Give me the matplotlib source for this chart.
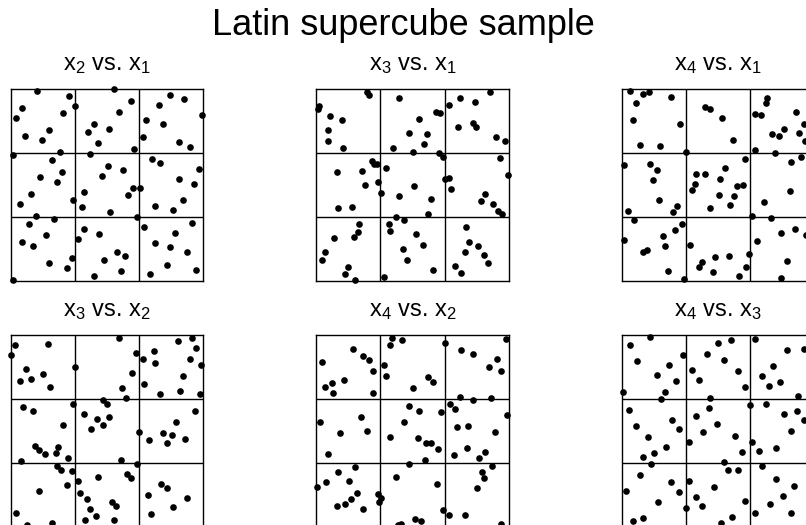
import numpy as np
import matplotlib
matplotlib.use("Agg")
import matplotlib.pyplot as plt

plt.rcParams["font.family"] = ["Liberation Sans", "DejaVu Sans"]
plt.rcParams["mathtext.default"] = "regular"

TITLE = "Latin supercube sample"

# Panel labels: (vertical variable, horizontal variable)
pairs = [(2, 1), (3, 1), (4, 1), (3, 2), (4, 2), (4, 3)]

# x2 vs. x1
p21_x = [0.138, 0.303, 0.337, 0.061, 0.031, 0.273, 0.199, 0.074, 0.164,
         0.536, 0.626, 0.562, 0.433, 0.401, 0.510, 0.455, 0.644,
         0.827, 0.901, 0.773, 0.997, 0.702, 0.794, 0.689, 0.877, 0.931,
         0.014, 0.256, 0.216, 0.270, 0.151, 0.240, 0.109, 0.047, 0.324, 0.135,
         0.415, 0.505, 0.583, 0.474, 0.637, 0.384, 0.609, 0.369, 0.519,
         0.737, 0.779, 0.981, 0.875, 0.952, 0.675, 0.896, 0.753, 0.843,
         0.227, 0.095, 0.187, 0.062, 0.118, 0.318, 0.201, 0.291, 0.012,
         0.382, 0.458, 0.353, 0.554, 0.597, 0.486, 0.574, 0.434,
         0.659, 0.692, 0.945, 0.855, 0.749, 0.829, 0.919, 0.813, 0.965, 0.723]
p21_y = [0.986, 0.960, 0.911, 0.899, 0.847, 0.870, 0.783, 0.755, 0.730,
         0.995, 0.934, 0.878, 0.816, 0.774, 0.791, 0.717, 0.687,
         0.965, 0.943, 0.915, 0.861, 0.837, 0.816, 0.748, 0.722, 0.696,
         0.654, 0.671, 0.626, 0.567, 0.537, 0.515, 0.449, 0.397, 0.421, 0.337,
         0.659, 0.598, 0.576, 0.546, 0.482, 0.459, 0.443, 0.383, 0.355,
         0.633, 0.610, 0.583, 0.529, 0.503, 0.480, 0.417, 0.388, 0.365,
         0.322, 0.294, 0.235, 0.203, 0.181, 0.115, 0.089, 0.063, 0.003,
         0.266, 0.242, 0.214, 0.150, 0.127, 0.108, 0.049, 0.021,
         0.329, 0.277, 0.299, 0.249, 0.195, 0.172, 0.150, 0.083, 0.056, 0.035]

# x3 vs. x1
p31_x = [0.265, 0.272, 0.012, 0.009, 0.073, 0.133, 0.059, 0.061, 0.139,
         0.432, 0.620, 0.641, 0.534, 0.484, 0.575, 0.560, 0.400, 0.504, 0.638, 0.659,
         0.901, 0.749, 0.825, 0.688, 0.813, 0.828, 0.737, 0.931, 0.979,
         0.288, 0.302, 0.315, 0.106, 0.239, 0.255, 0.322, 0.334, 0.113, 0.184,
         0.364, 0.506, 0.430, 0.594, 0.582, 0.412,
         0.953, 0.671, 0.690, 0.995, 0.702, 0.877, 0.854, 0.919, 0.945, 0.965,
         0.224, 0.215, 0.196, 0.094, 0.043, 0.031, 0.165, 0.147, 0.199,
         0.456, 0.380, 0.383, 0.520, 0.553, 0.452, 0.473, 0.608, 0.352,
         0.776, 0.792, 0.842, 0.771, 0.873, 0.893, 0.723, 0.752]
p31_y = [0.984, 0.967, 0.910, 0.893, 0.856, 0.834, 0.783, 0.726, 0.688,
         0.950, 0.879, 0.875, 0.841, 0.768, 0.763, 0.711, 0.692, 0.671, 0.662, 0.643,
         0.984, 0.951, 0.929, 0.915, 0.820, 0.801, 0.802, 0.745, 0.724,
         0.622, 0.605, 0.607, 0.563, 0.570, 0.496, 0.511, 0.456, 0.380, 0.381,
         0.586, 0.490, 0.438, 0.423, 0.347, 0.331,
         0.638, 0.530, 0.532, 0.548, 0.477, 0.452, 0.416, 0.400, 0.364, 0.347,
         0.295, 0.255, 0.225, 0.222, 0.146, 0.107, 0.071, 0.036, 0.002,
         0.317, 0.296, 0.260, 0.241, 0.185, 0.166, 0.109, 0.057, 0.017,
         0.277, 0.201, 0.182, 0.149, 0.132, 0.090, 0.078, 0.038]

# x4 vs. x1
p41_x = [0.043, 0.108, 0.139, 0.073, 0.255, 0.057, 0.300, 0.094, 0.198,
         0.335, 0.431, 0.457, 0.521, 0.576,
         0.752, 0.750, 0.691, 0.724, 0.905, 0.946, 0.844, 0.780, 0.814, 0.918,
         0.951, 0.689, 0.795,
         0.012, 0.148, 0.184, 0.163, 0.194, 0.031, 0.288, 0.267,
         0.639, 0.535, 0.384, 0.432, 0.507, 0.380, 0.366, 0.595, 0.627, 0.503,
         0.583, 0.561, 0.455,
         0.932, 0.878, 0.875, 0.738, 0.675, 0.773,
         0.061, 0.314, 0.273, 0.214, 0.224, 0.009, 0.111, 0.132, 0.240, 0.323,
         0.352, 0.660, 0.484, 0.554, 0.415, 0.401, 0.644, 0.474, 0.609,
         0.898, 0.828, 0.958, 0.703, 0.856, 0.825]
p41_y = [0.988, 0.972, 0.981, 0.924, 0.957, 0.838, 0.814, 0.704, 0.702,
         0.671, 0.902, 0.893, 0.845, 0.733,
         0.950, 0.924, 0.869, 0.862, 0.876, 0.816, 0.790, 0.761, 0.752, 0.766,
         0.726, 0.678, 0.666,
         0.602, 0.609, 0.578, 0.525, 0.418, 0.361, 0.387, 0.356,
         0.635, 0.585, 0.556, 0.554, 0.530, 0.504, 0.473, 0.492, 0.499, 0.444,
         0.442, 0.394, 0.380,
         0.642, 0.616, 0.466, 0.411, 0.334, 0.325,
         0.317, 0.294, 0.263, 0.232, 0.182, 0.213, 0.151, 0.158, 0.048, 0.009,
         0.186, 0.136, 0.120, 0.127, 0.095, 0.072, 0.072, 0.043, 0.022,
         0.270, 0.246, 0.239, 0.207, 0.103, 0.015]

# x3 vs. x2
p32_x = [0.021, 0.003, 0.193, 0.082, 0.169, 0.047, 0.108, 0.203, 0.336,
         0.565, 0.652, 0.631, 0.581, 0.598,
         0.870, 0.941, 0.965, 0.748, 0.687, 0.753, 0.932, 0.991, 0.896, 0.696,
         0.776, 0.878, 0.984,
         0.325, 0.063, 0.115, 0.275, 0.125, 0.148, 0.181, 0.235, 0.247, 0.297, 0.054,
         0.482, 0.503, 0.383, 0.449, 0.513, 0.480, 0.419, 0.576, 0.657,
         0.960, 0.861, 0.670, 0.790, 0.837, 0.814, 0.720, 0.908,
         0.240, 0.264, 0.317, 0.292, 0.148, 0.030, 0.085, 0.214,
         0.353, 0.457, 0.607, 0.628, 0.362, 0.395, 0.527, 0.548, 0.414, 0.443,
         0.386, 0.537,
         0.781, 0.814, 0.715, 0.915, 0.845, 0.730]
p32_y = [0.948, 0.894, 0.951, 0.821, 0.799, 0.762, 0.769, 0.727, 0.835,
         0.984, 0.908, 0.800, 0.724, 0.672,
         0.970, 0.986, 0.931, 0.917, 0.873, 0.856, 0.877, 0.842, 0.785, 0.747,
         0.691, 0.710, 0.691,
         0.641, 0.623, 0.604, 0.531, 0.424, 0.401, 0.380, 0.384, 0.415, 0.361, 0.344,
         0.663, 0.639, 0.587, 0.563, 0.571, 0.531, 0.512, 0.347, 0.330,
         0.604, 0.547, 0.495, 0.490, 0.479, 0.438, 0.453, 0.457,
         0.316, 0.295, 0.293, 0.219, 0.186, 0.075, 0.010, 0.019,
         0.240, 0.259, 0.278, 0.253, 0.179, 0.144, 0.130, 0.109, 0.092, 0.056,
         0.038, 0.035,
         0.226, 0.201, 0.165, 0.149, 0.106, 0.069]

# x4 vs. x2
p42_x = [0.191, 0.242, 0.275, 0.297, 0.031, 0.146, 0.080, 0.045, 0.087, 0.292,
         0.395, 0.384, 0.447, 0.353, 0.362, 0.579, 0.607, 0.501,
         0.670, 0.986, 0.753, 0.816, 0.941, 0.897, 0.958, 0.746, 0.814, 0.910,
         0.019, 0.233, 0.264, 0.125, 0.061,
         0.482, 0.536, 0.649, 0.457, 0.381, 0.527, 0.572, 0.597, 0.630, 0.565,
         0.480,
         0.694, 0.720, 0.991, 0.790, 0.730, 0.930, 0.781, 0.713, 0.877, 0.845,
         0.913,
         0.202, 0.115, 0.052, 0.170, 0.002, 0.210, 0.318, 0.334, 0.325, 0.179,
         0.148, 0.108, 0.245,
         0.414, 0.626, 0.657, 0.511, 0.544, 0.440, 0.423,
         0.859, 0.870, 0.837, 0.687, 0.774, 0.962]
p42_y = [0.925, 0.891, 0.868, 0.813, 0.861, 0.764, 0.748, 0.731, 0.700, 0.700,
         0.986, 0.948, 0.972, 0.844, 0.788, 0.781, 0.755, 0.724,
         0.957, 0.981, 0.924, 0.899, 0.875, 0.835, 0.813, 0.677, 0.661, 0.670,
         0.549, 0.575, 0.502, 0.488, 0.382,
         0.632, 0.604, 0.597, 0.549, 0.469, 0.462, 0.436, 0.438, 0.405, 0.351,
         0.326,
         0.639, 0.613, 0.582, 0.528, 0.519, 0.495, 0.413, 0.375, 0.389, 0.358,
         0.319,
         0.311, 0.288, 0.233, 0.240, 0.207, 0.177, 0.174, 0.151, 0.128, 0.144,
         0.118, 0.111, 0.095,
         0.262, 0.226, 0.087, 0.040, 0.031, 0.016, 0.009,
         0.288, 0.255, 0.201, 0.064, 0.063, 0.014]

# x4 vs. x3
p43_x = [0.147, 0.040, 0.079, 0.316, 0.242, 0.183, 0.278, 0.003, 0.221, 0.204,
         0.565, 0.497, 0.439, 0.532, 0.364, 0.603, 0.402, 0.641, 0.456,
         0.691, 0.857, 0.945, 0.784, 0.725, 0.820, 0.762, 0.915,
         0.038, 0.261, 0.073, 0.297, 0.133, 0.226, 0.168, 0.109, 0.152,
         0.454, 0.382, 0.491, 0.423, 0.585, 0.349, 0.622, 0.528, 0.663,
         0.746, 0.841, 0.908, 0.945, 0.876, 0.674, 0.712, 0.801,
         0.093, 0.256, 0.297, 0.019, 0.188, 0.332, 0.111, 0.059,
         0.549, 0.604, 0.347, 0.478, 0.382, 0.418, 0.641, 0.570, 0.513,
         0.727, 0.798, 0.895, 0.834, 0.769, 0.691, 0.876]
p43_y = [0.988, 0.950, 0.864, 0.895, 0.845, 0.792, 0.759, 0.703, 0.704, 0.665,
         0.974, 0.959, 0.902, 0.871, 0.816, 0.814, 0.768, 0.729, 0.674,
         0.981, 0.924, 0.926, 0.838, 0.785, 0.753, 0.734, 0.680,
         0.610, 0.557, 0.526, 0.509, 0.467, 0.419, 0.383, 0.364, 0.326,
         0.619, 0.579, 0.534, 0.493, 0.474, 0.443, 0.390, 0.337, 0.636,
         0.643, 0.588, 0.603, 0.555, 0.500, 0.445, 0.397, 0.412,
         0.270, 0.235, 0.184, 0.187, 0.129, 0.098, 0.045, 0.029,
         0.297, 0.297, 0.242, 0.210, 0.155, 0.107, 0.137, 0.052, 0.022,
         0.320, 0.249, 0.216, 0.160, 0.122, 0.074, 0.074]

panels = [(p21_x, p21_y), (p31_x, p31_y), (p41_x, p41_y),
          (p32_x, p32_y), (p42_x, p42_y), (p43_x, p43_y)]

W, H = 806, 525
fig = plt.figure(figsize=(W / 100, H / 100), dpi=100)

# Panel frames in pixel units (left, top), all the same size
lefts = [10.5, 316.3, 622.0]
tops = [88.5, 335.0]
size_w, size_h = 192.5, 192.0

for k, ((j, i), (xs, ys)) in enumerate(zip(pairs, panels)):
    r, c = divmod(k, 3)
    l, t = lefts[c], tops[r]
    ax = fig.add_axes([l / W, 1 - (t + size_h) / H, size_w / W, size_h / H])
    ax.set_xlim(0, 1)
    ax.set_ylim(0, 1)
    ax.set_xticks([])
    ax.set_yticks([])
    for s in ax.spines.values():
        s.set_linewidth(1.0)
        s.set_color("black")
    for g in (1 / 3, 2 / 3):
        ax.axvline(g, color="black", lw=1.0, zorder=1)
        ax.axhline(g, color="black", lw=1.0, zorder=1)
    ax.scatter(xs, ys, s=23, color="black", linewidths=0, zorder=3,
               clip_on=False)
    fig.text((l + size_w / 2) / W, 1 - (t - 18.5) / H,
             rf"$x_{j}$ vs. $x_{i}$", ha="center", va="baseline",
             fontsize=17)

fig.text(0.5, 1 - 35 / H, TITLE, ha="center", va="baseline", fontsize=26)

fig.savefig("out.png", dpi=100)
